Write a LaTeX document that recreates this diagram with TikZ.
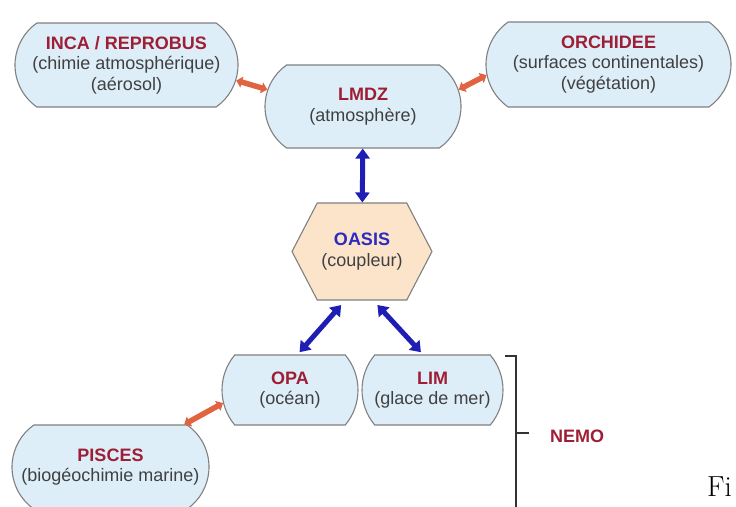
\documentclass[tikz,border=0pt]{standalone}
\usepackage{fontspec}
\newfontfamily\arialfont{Liberation Sans}
\usetikzlibrary{shapes.misc,shapes.symbols,arrows.meta}

\definecolor{boxblue}{HTML}{DDEEF8}
\definecolor{boxline}{HTML}{808080}
\definecolor{ttlred}{HTML}{9E1F35}
\definecolor{txtgray}{HTML}{404040}
\definecolor{cplfill}{HTML}{FBE4CA}
\definecolor{cplblue}{HTML}{2B2BC0}
\definecolor{arrblue}{HTML}{1E1EB4}
\definecolor{arrorange}{HTML}{E0643F}

\newcommand{\ttl}[1]{{\bfseries\color{ttlred}#1}}

\begin{document}
\begin{tikzpicture}[x=1pt, y=-1pt,
  modbox/.style={shape=rounded rectangle, rounded rectangle arc length=110,
    draw=boxline, line width=1.1pt, fill=boxblue, inner sep=0pt, align=center,
    text=txtgray, font=\arialfont\fontsize{18}{20.5}\selectfont},
  nemobox/.style={modbox, rounded rectangle arc length=80},
  cplbox/.style={shape=signal, signal to=east and west, signal pointer angle=125,
    draw=boxline, line width=1.1pt, fill=cplfill, inner sep=0pt, align=center,
    text=txtgray, font=\arialfont\fontsize{18}{21}\selectfont},
  bluelink/.style={draw=arrblue, line width=5pt, <->, >={Triangle[length=10pt, width=14pt]}},
  orangelink/.style={draw=arrorange, line width=5.5pt, <->, >={Triangle[length=6pt, width=11pt]}}]
\useasboundingbox (0,0) rectangle (736,506);

% models
\node [modbox, minimum width=223, minimum height=84] (inca) at (126.5, 65)
  {\ttl{INCA / REPROBUS}\\(chimie atmosphérique)\\(aérosol)};
\node [modbox, minimum width=196, minimum height=83] (lmdz) at (363, 106.5)
  {\ttl{LMDZ}\\(atmosphère)};
\node [modbox, minimum width=245, minimum height=85] (orchidee) at (608.5, 64.5)
  {\ttl{ORCHIDEE}\\(surfaces continentales)\\(végétation)};
\node [cplbox, minimum width=140, minimum height=97] (oasis) at (362, 251.5)
  {{\bfseries\color{cplblue}OASIS}\\(coupleur)};
\node [nemobox, minimum width=136, minimum height=70] (opa) at (290, 390)
  {\ttl{OPA}\\(océan)};
\node [nemobox, minimum width=141, minimum height=70] (lim) at (432.5, 390)
  {\ttl{LIM}\\(glace de mer)};
\node [modbox, minimum width=197, minimum height=84] (pisces) at (110.5, 467)
  {\ttl{PISCES}\\(biogéochimie marine)};

% links
\draw [orangelink] (inca.-8) -- (lmdz.170);
\draw [orangelink] (lmdz.10) -- (orchidee.185);
\draw [orangelink] (pisces.30) -- (opa.191);
\draw [bluelink] (lmdz) -- (oasis);
\draw [bluelink, shorten <=6pt, shorten >=3pt] (oasis.251) -- (opa.78);
\draw [bluelink, shorten <=6pt, shorten >=3pt] (oasis.283) -- (lim.105);

% NEMO bracket
\draw [line width=1.3pt, draw=black!80] (505, 356) -- (516, 356) -- (516, 510);
\draw [line width=1.3pt, draw=black!80] (516, 433) -- (529, 433);
\node [font=\arialfont\bfseries\fontsize{18}{20}\selectfont, text=ttlred] (nemo) at (577, 436) {NEMO};

\node [anchor=base west, inner sep=0pt, font=\rmfamily\fontsize{29}{29}\selectfont] (fig) at (707, 496) {Fi};
\end{tikzpicture}
\end{document}
